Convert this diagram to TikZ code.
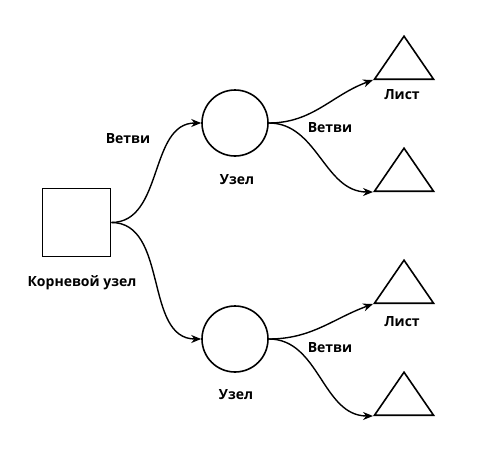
\documentclass[tikz,border=0pt]{standalone}
\usepackage{fontspec}
\setmainfont{Open Sans}
\usetikzlibrary{arrows.meta,shapes.geometric}

\begin{document}
\begin{tikzpicture}[
    x=1pt, y=-1pt,
    every node/.style={font=\fontsize{14}{16}\selectfont\bfseries},
    root/.style={rectangle,draw,line width=1.6pt,minimum size=68pt,inner sep=0pt},
    inner/.style={circle,draw,line width=1.6pt,minimum size=66pt,inner sep=0pt},
    leaf/.style={isosceles triangle,isosceles triangle stretches,shape border rotate=90,
        draw,line width=1.6pt,minimum width=59pt,minimum height=43pt,inner sep=0pt,
        anchor=left corner},
    branch/.style={-{Stealth[length=10pt,width=8pt]},line width=1.4pt}
]
\useasboundingbox (0,0) rectangle (480,458);

\node[root] (root) at (76.5,222.5) {};
\node (rootlabel) at (82,283) {Корневой узел};

\node[inner] (upper) at (235,123) {};
\node (upperlabel) at (237,180) {Узел};
\node[inner] (lower) at (235,339) {};
\node (lowerlabel) at (236,395) {Узел};

\node[leaf] (leafa) at (373,80) {};
\node[leaf] (leafb) at (373,192) {};
\node[leaf] (leafc) at (373,304) {};
\node[leaf] (leafd) at (373,416) {};
\node (leafalabel) at (402,95) {Лист};
\node (leafclabel) at (402,322) {Лист};

\node (rootbranch) at (128,139) {Ветви};
\node (upperbranch) at (330,128) {Ветви};
\node (lowerbranch) at (330,348) {Ветви};

\draw[branch] (root.east) to[out=0,in=180] (upper.west);
\draw[branch] (root.east) to[out=0,in=180] (lower.west);

\draw[branch] (upper.east) to[out=0,in=200] (leafa.left corner);
\draw[branch] (upper.east) to[out=0,in=180] (leafb.left corner);
\draw[branch] (lower.east) to[out=0,in=200] (leafc.left corner);
\draw[branch] (lower.east) to[out=0,in=180] (leafd.left corner);

\end{tikzpicture}
\end{document}
